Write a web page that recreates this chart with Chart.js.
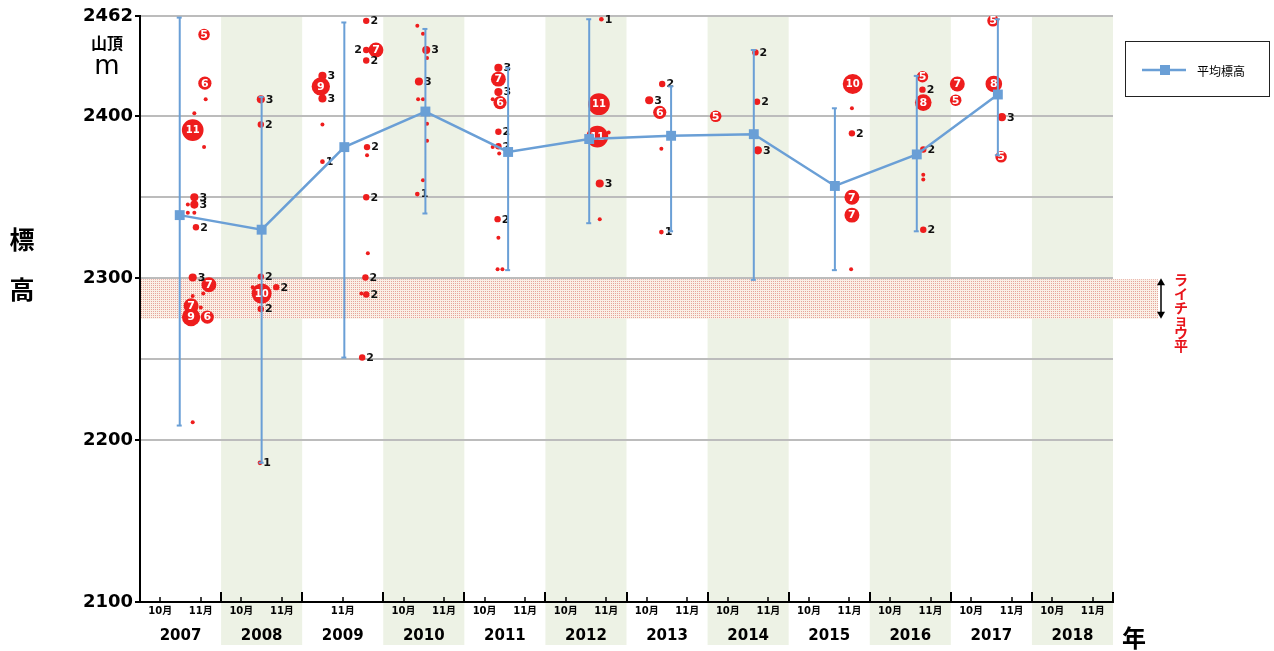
<!DOCTYPE html>
<html>
<head>
<meta charset="utf-8">
<script src="https://cdn.jsdelivr.net/npm/chart.js@4.4.1/dist/chart.umd.min.js"></script>
<style>
  html, body { margin: 0; padding: 0; background: #fff; }
  #wrap { width: 1274px; height: 651px; position: relative; }
</style>
</head>
<body>
<div id="wrap"><canvas id="c" width="1274" height="651"></canvas></div>
<script>
// ---- data ----------------------------------------------------------------
const years = ['2007','2008','2009','2010','2011','2012','2013','2014','2015','2016','2017','2018'];
const surveyMonths = [
  ['10月','11月'], ['10月','11月'], ['11月'], ['10月','11月'], ['10月','11月'], ['10月','11月'],
  ['10月','11月'], ['10月','11月'], ['10月','11月'], ['10月','11月'], ['10月','11月'], ['10月','11月']
];
const yTickValues = [2100, 2200, 2250, 2300, 2350, 2400, 2462];
const yTickLabels = ['2100', '2200', '', '2300', '', '2400', '2462'];

// yearly mean altitude and observed range
const meanX    = [2007.49, 2008.50, 2009.52, 2010.52, 2011.54, 2012.54, 2013.55, 2014.57, 2015.57, 2016.58, 2017.58];
const meanAlt  = [2339, 2330, 2381, 2403, 2378, 2386, 2388, 2389, 2357, 2376.5, 2413.5];
const rangeHigh = [2461, 2412, 2458, 2454, 2430, 2460, 2418.5, 2441, 2405, 2425, 2460];
const rangeLow  = [2209, 2186, 2251, 2340, 2305, 2334, 2329, 2299, 2305, 2329, 2376];

// flocks (position in survey year, altitude, number of birds)
const flockX = [
  2007.79, 2007.80, 2007.65, 2007.67, 2007.67, 2007.69, 2007.65, 2007.85, 2007.63, 2007.63, 2007.83,
  2008.49, 2008.49, 2008.49, 2008.50, 2008.68, 2008.49, 2008.48,
  2009.79, 2009.79, 2009.91, 2009.79, 2009.80, 2009.79, 2009.25, 2009.23, 2009.25, 2009.25, 2009.78, 2009.79, 2009.74,
  2010.53, 2010.44, 2010.42,
  2011.42, 2011.42, 2011.42, 2011.44, 2011.42, 2011.42, 2011.41,
  2012.66, 2012.64, 2012.67, 2012.69,
  2013.44, 2013.28, 2013.41, 2013.43, 2014.10,
  2014.59, 2014.61, 2014.62,
  2015.79, 2015.78, 2015.78, 2015.78,
  2016.65, 2016.65, 2016.66, 2016.66, 2016.66, 2017.08, 2017.06,
  2017.52, 2017.53, 2017.63, 2017.62
];
const flockAlt = [
  2450.5, 2420.5, 2391.5, 2350, 2345.5, 2331.5, 2300.5, 2296, 2283, 2276, 2276,
  2410.5, 2395, 2301, 2290.5, 2294.5, 2281, 2186,
  2459, 2441, 2441, 2434.5, 2381, 2350, 2425, 2418.5, 2411, 2372, 2300.5, 2290, 2251,
  2441, 2421.5, 2352,
  2430, 2423, 2415, 2408.5, 2390.5, 2381.5, 2336.5,
  2407.5, 2387.5, 2358.5, 2460,
  2420, 2410, 2402.5, 2328.5, 2400,
  2439.5, 2409, 2379,
  2420, 2389.5, 2350, 2339,
  2424.5, 2416.5, 2408.5, 2379.5, 2330, 2420, 2410,
  2459, 2420, 2399.5, 2375
];
const flockCount = [
  5, 6, 11, 3, 3, 2, 3, 7, 7, 9, 6,
  3, 2, 2, 10, 2, 2, 1,
  2, 2, 7, 2, 2, 2, 3, 9, 3, 1, 2, 2, 2,
  3, 3, 1,
  3, 7, 3, 6, 2, 2, 2,
  11, 11, 3, 1,
  2, 3, 6, 1, 5,
  2, 2, 3,
  10, 2, 7, 7,
  5, 2, 8, 2, 2, 7, 5,
  5, 8, 3, 5
];

// single birds
const singleX = [
  2007.81, 2007.67, 2007.79, 2007.59, 2007.59, 2007.67, 2007.78, 2007.65, 2007.75, 2007.65,
  2008.39,
  2009.25, 2009.80, 2009.81, 2009.73,
  2010.42, 2010.49, 2010.54, 2010.43, 2010.49, 2010.54, 2010.54, 2010.49,
  2011.35, 2011.35, 2011.43, 2011.42, 2011.41, 2011.47,
  2012.78, 2012.67,
  2013.43,
  2015.78, 2015.77,
  2016.66, 2016.66
];
const singleAlt = [
  2410.5, 2402, 2381, 2345.5, 2340.5, 2340.5, 2290.5, 2289, 2282, 2211,
  2294.5,
  2395, 2376, 2315.5, 2290.5,
  2456, 2451, 2436, 2410.5, 2410.5, 2395.5, 2385, 2360.5,
  2410.5, 2381, 2377, 2325, 2305.5, 2305.5,
  2390, 2336.5,
  2380,
  2405, 2305.5,
  2364, 2361
];

// ライチョウ平 altitude zone
const raichoTop = 2300;
const raichoBottom = 2275;

// ---- styling -------------------------------------------------------------
const BLUE = '#6a9fd6';
const RED = '#ee1d1d';
const BAND = '#edf2e5';
const GRID = '#bcbcbc';
const SANS = "'DejaVu Sans', 'Noto Sans CJK JP', sans-serif";
const CJK = "'Noto Sans CJK JP', sans-serif";

const bubbleRadius = n => 1.5 + 0.85 * n;

// month tick positions inside each year band
const monthTicks = [];
surveyMonths.forEach((list, i) => {
  const base = 2007 + i;
  if (list.length === 1) monthTicks.push({ value: base + 0.5, label: list[0] });
  else list.forEach((m, k) => monthTicks.push({ value: base + (k === 0 ? 0.25 : 0.75), label: m }));
});

const canvas = document.getElementById('c');
const ctx2d = canvas.getContext('2d');

// dotted fill for the ライチョウ平 zone
const tile = document.createElement('canvas');
tile.width = 2; tile.height = 2;
const tc = tile.getContext('2d');
tc.fillStyle = '#faf0e6'; tc.fillRect(0, 0, 2, 2);
tc.fillStyle = '#e6a49b'; tc.fillRect(1, 1, 1, 1);
const dotPattern = ctx2d.createPattern(tile, 'repeat');

const rangeData = [];
meanX.forEach((x, i) => {
  rangeData.push({ x, y: rangeHigh[i] }, { x, y: rangeLow[i] }, { x, y: null });
});

const DS_MEAN = 0, DS_RANGE = 1, DS_FLOCK = 2;

const decor = {
  id: 'decor',
  beforeDraw(chart) {
    const { ctx, chartArea: a, scales: { x } } = chart;
    ctx.save();
    ctx.fillStyle = '#fff';
    ctx.fillRect(0, 0, chart.width, chart.height);
    ctx.fillStyle = BAND;
    years.forEach((yr, i) => {
      if (i % 2 === 1) {
        const l = x.getPixelForValue(2007 + i), r = x.getPixelForValue(2008 + i);
        ctx.fillRect(l, a.top, r - l, 645 - a.top);
      }
    });
    ctx.restore();
  },
  beforeDatasetsDraw(chart) {
    const { ctx, chartArea: a, scales: { y } } = chart;
    const t = y.getPixelForValue(raichoTop), b = y.getPixelForValue(raichoBottom);
    ctx.save();
    ctx.fillStyle = dotPattern;
    ctx.fillRect(a.left + 1, t + 1, 1158 - a.left - 1, b - t - 1);
    ctx.restore();
  },
  afterDatasetDraw(chart, args) {
    const ctx = chart.ctx;
    if (args.index === DS_RANGE) {
      const meta = chart.getDatasetMeta(DS_RANGE);
      ctx.save();
      ctx.strokeStyle = BLUE; ctx.lineWidth = 2;
      meta.data.forEach((p, i) => {
        if (i % 3 === 2) return;
        ctx.beginPath(); ctx.moveTo(p.x - 3, p.y); ctx.lineTo(p.x + 2, p.y); ctx.stroke();
      });
      ctx.restore();
    }
    if (args.index === DS_FLOCK) {
      const meta = chart.getDatasetMeta(DS_FLOCK);
      const pts = meta.data.map((el, i) => ({ x: el.x, y: el.y, r: el.options.radius, n: flockCount[i] }));
      ctx.save();
      ctx.textBaseline = 'middle';
      pts.forEach((p, i) => {
        if (p.n >= 5) {
          ctx.fillStyle = '#fff';
          ctx.textAlign = 'center';
          ctx.font = `bold ${p.n >= 10 ? 10 : 11}px ${SANS}`;
          ctx.fillText(String(p.n), p.x, p.y + 0.5);
        } else {
          ctx.font = `bold 11px ${SANS}`;
          ctx.fillStyle = '#111';
          const w = ctx.measureText(String(p.n)).width;
          const cx = p.x + p.r + 1 + w / 2;
          const blocked = pts.some((q, k) => k !== i && q.n >= 5 && Math.hypot(q.x - cx, q.y - p.y) < q.r);
          if (blocked) { ctx.textAlign = 'right'; ctx.fillText(String(p.n), p.x - p.r - 1, p.y + 0.5); }
          else { ctx.textAlign = 'left'; ctx.fillText(String(p.n), p.x + p.r + 1, p.y + 0.5); }
        }
      });
      ctx.restore();
    }
  },
  afterDraw(chart) {
    const { ctx, chartArea: a, scales: { x, y } } = chart;
    ctx.save();
    // tick marks on the time axis
    ctx.strokeStyle = '#000'; ctx.lineWidth = 2;
    for (let i = 1; i <= years.length; i++) {
      const px = Math.round(x.getPixelForValue(2007 + i));
      ctx.beginPath(); ctx.moveTo(px, a.bottom); ctx.lineTo(px, a.bottom - 10); ctx.stroke();
    }
    ctx.lineWidth = 1.5;
    monthTicks.forEach(t => {
      const px = Math.round(x.getPixelForValue(t.value));
      ctx.beginPath(); ctx.moveTo(px, a.bottom); ctx.lineTo(px, a.bottom - 5); ctx.stroke();
    });

    // axis captions
    ctx.fillStyle = '#000';
    ctx.textAlign = 'center'; ctx.textBaseline = 'middle';
    ctx.font = `bold 16px ${CJK}`;
    ctx.fillText('山頂', 107, 43);
    ctx.font = `26px ${SANS}`;
    ctx.fillText('m', 107, 67);
    ctx.font = `bold 25px ${CJK}`;
    ctx.fillText('標', 22, 239);
    ctx.fillText('高', 22, 289);
    ctx.font = `bold 24px ${CJK}`;
    ctx.fillText('年', 1134, 638);

    // legend
    const ds = chart.data.datasets[DS_MEAN];
    ctx.strokeStyle = '#222'; ctx.lineWidth = 1;
    ctx.strokeRect(1125.5, 41.5, 144, 55);
    ctx.strokeStyle = ds.borderColor; ctx.lineWidth = 2.5;
    ctx.beginPath(); ctx.moveTo(1142, 70); ctx.lineTo(1186, 70); ctx.stroke();
    ctx.fillStyle = ds.borderColor;
    ctx.fillRect(1160, 65, 10, 10);
    ctx.fillStyle = '#000';
    ctx.textAlign = 'left';
    ctx.font = `12px ${CJK}`;
    ctx.fillText(ds.label, 1197, 71);

    // ライチョウ平 marker
    const t = y.getPixelForValue(raichoTop), b = y.getPixelForValue(raichoBottom);
    const ax = 1161;
    ctx.strokeStyle = '#000'; ctx.fillStyle = '#000'; ctx.lineWidth = 1.5;
    ctx.beginPath(); ctx.moveTo(ax, t + 5); ctx.lineTo(ax, b - 5); ctx.stroke();
    ctx.beginPath(); ctx.moveTo(ax, t); ctx.lineTo(ax - 4, t + 7); ctx.lineTo(ax + 4, t + 7); ctx.closePath(); ctx.fill();
    ctx.beginPath(); ctx.moveTo(ax, b); ctx.lineTo(ax - 4, b - 7); ctx.lineTo(ax + 4, b - 7); ctx.closePath(); ctx.fill();
    ctx.fillStyle = '#e8141b';
    ctx.textAlign = 'center';
    ctx.font = `bold 14px ${CJK}`;
    const zone = ['ラ', 'イ', 'チ', 'ョ', 'ウ', '平'];
    const zy = [280, 294, 308, 320, 333, 346];
    zone.forEach((ch, i) => ctx.fillText(ch, 1181, zy[i]));
    ctx.restore();
  }
};

new Chart(canvas, {
  type: 'bubble',
  data: {
    datasets: [
      {
        type: 'line', label: '平均標高',
        data: meanX.map((x, i) => ({ x, y: meanAlt[i] })),
        borderColor: BLUE, backgroundColor: BLUE, borderWidth: 2.5,
        pointStyle: 'rect', pointRadius: 7, pointBorderWidth: 0,
        tension: 0, order: 0
      },
      {
        type: 'line', label: '範囲', data: rangeData,
        borderColor: BLUE, borderWidth: 2, pointRadius: 0, spanGaps: false, order: 1
      },
      {
        type: 'bubble', label: '群れ',
        data: flockX.map((x, i) => ({ x, y: flockAlt[i], r: bubbleRadius(flockCount[i]) })),
        backgroundColor: RED, borderWidth: 0, order: 2
      },
      {
        type: 'bubble', label: '単独',
        data: singleX.map((x, i) => ({ x, y: singleAlt[i], r: 2 })),
        backgroundColor: RED, borderWidth: 0, order: 3
      }
    ]
  },
  options: {
    responsive: false,
    animation: false,
    events: [],
    layout: { padding: { left: 0, top: 16, right: 161, bottom: 0 } },
    plugins: { legend: { display: false }, tooltip: { enabled: false } },
    scales: {
      x: {
        type: 'linear', position: 'bottom', min: 2007, max: 2019, weight: 0,
        afterBuildTicks: s => { s.ticks = monthTicks.map(t => ({ value: t.value })); },
        afterFit: s => { s.height = 20; },
        ticks: {
          autoSkip: false, maxRotation: 0, minRotation: 0, padding: 3,
          color: '#000', font: { family: SANS, size: 10, weight: 'bold' },
          callback: (v, i) => monthTicks[i] ? monthTicks[i].label : ''
        },
        grid: { drawOnChartArea: false, drawTicks: false },
        border: { color: '#000', width: 2 }
      },
      yr: {
        type: 'linear', position: 'bottom', min: 2007, max: 2019, weight: 1,
        afterBuildTicks: s => { s.ticks = years.map((yv, i) => ({ value: 2007.5 + i })); },
        afterFit: s => { s.height = 29; },
        ticks: {
          autoSkip: false, maxRotation: 0, minRotation: 0, padding: 5,
          color: '#000', font: { family: SANS, size: 15, weight: 'bold' },
          callback: (v, i) => years[i]
        },
        grid: { display: false, drawTicks: false },
        border: { display: false }
      },
      y: {
        type: 'linear', min: 2100, max: 2462,
        afterBuildTicks: s => { s.ticks = yTickValues.map(v => ({ value: v })); },
        afterFit: s => { s.width = 140; },
        ticks: {
          padding: 2, color: '#000',
          font: { family: SANS, size: 18, weight: 'bold' },
          callback: (v, i) => yTickLabels[i]
        },
        grid: {
          lineWidth: 2, tickLength: 5,
          color: c => (c.tick && c.tick.value === 2100) ? 'rgba(0,0,0,0)' : GRID,
          tickColor: c => (c.tick && yTickLabels[yTickValues.indexOf(c.tick.value)]) ? '#000' : 'rgba(0,0,0,0)'
        },
        border: { color: '#000', width: 2 }
      }
    }
  },
  plugins: [decor]
});
</script>
</body>
</html>
